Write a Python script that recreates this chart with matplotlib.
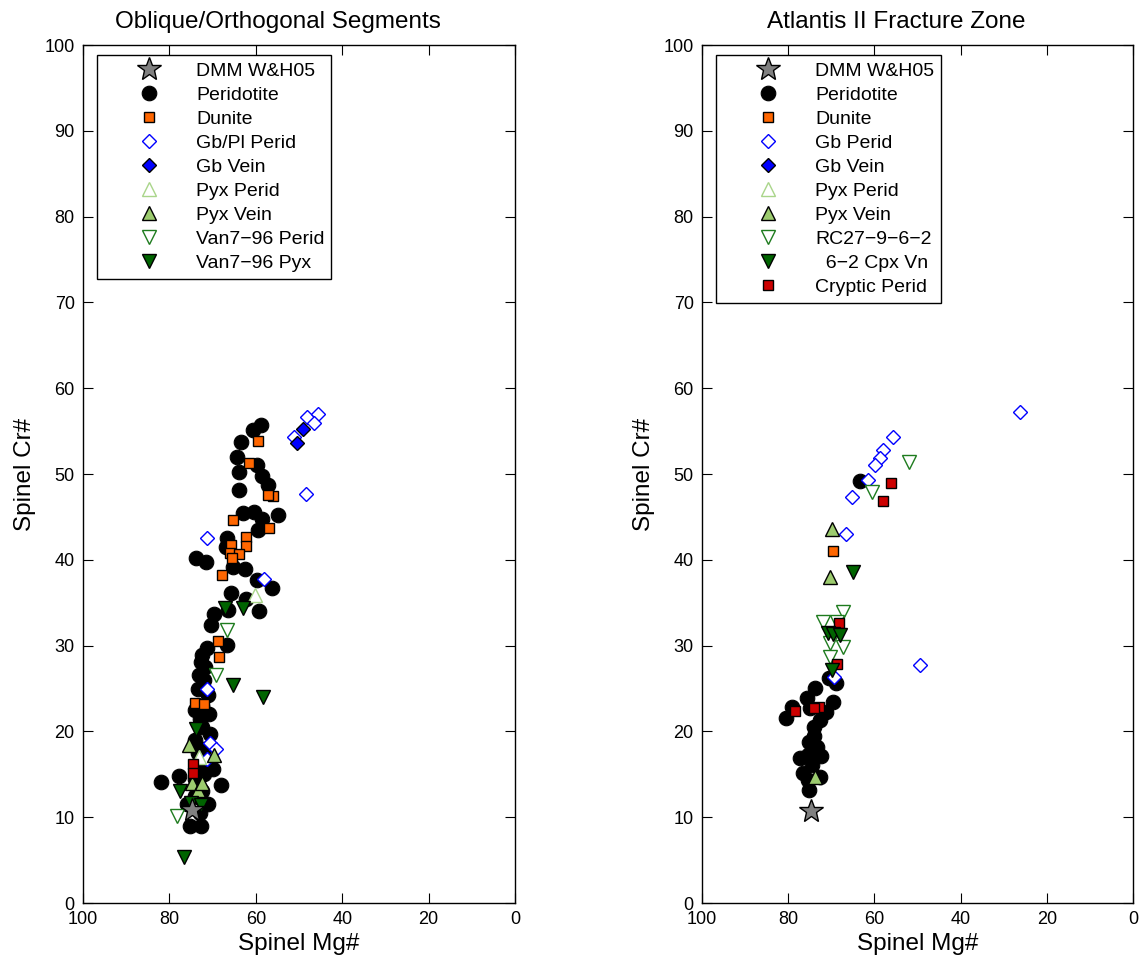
import matplotlib
matplotlib.use("Agg")
import matplotlib.pyplot as plt

plt.rcParams['font.family'] = ['Liberation Sans', 'DejaVu Sans']

# ---------------- Oblique/Orthogonal Segments ----------------
L_dmm_mg, L_dmm_cr = [74.8], [10.8]

L_per_mg = [58.8, 60.6, 63.4, 64.4, 63.9, 59.7, 58.6, 57.2, 63.9, 63.0, 60.4, 58.6, 54.9,
            59.5, 66.7, 66.9, 73.8, 71.5, 65.3, 62.5, 59.7, 56.3, 65.7, 62.3, 59.3, 66.4,
            69.7, 70.4, 66.7, 71.3, 72.5, 72.7, 73.1, 72.0, 73.5, 71.0, 72.5, 74.0, 73.0,
            70.5, 72.5, 74.0, 72.0, 73.5, 71.5, 73.0, 69.9, 72.0, 74.0, 77.8, 82.0, 68.0,
            72.5, 74.0, 71.1, 73.0, 75.2, 72.7, 76.0, 73.0, 70.8, 71.8]
L_per_cr = [55.7, 55.1, 53.7, 52.0, 50.2, 51.0, 49.8, 48.7, 48.1, 45.5, 45.6, 44.8, 45.2,
            43.5, 42.5, 41.5, 40.2, 39.7, 39.2, 38.9, 37.6, 36.7, 36.1, 35.4, 34.0, 34.1,
            33.7, 32.4, 30.1, 29.7, 28.9, 28.1, 26.6, 26.0, 25.0, 24.3, 23.0, 22.5, 21.4,
            19.7, 20.5, 19.0, 18.0, 17.5, 16.5, 16.0, 15.6, 15.0, 14.5, 14.8, 14.1, 13.8,
            13.0, 12.5, 11.5, 10.5, 9.0, 9.0, 11.5, 12.2, 22.0, 27.5]

L_dun_mg = [59.5, 61.6, 56.0, 57.2, 65.3, 57.0, 62.3, 65.7, 62.3, 66.0, 63.9, 65.5, 67.8,
            68.8, 68.5, 74.1, 72.0]
L_dun_cr = [53.8, 51.3, 47.4, 47.5, 44.6, 43.7, 42.7, 41.7, 41.6, 40.8, 40.7, 40.2, 38.2,
            30.5, 28.7, 23.3, 23.2]

L_gbp_mg = [48.1, 45.6, 46.5, 51.2, 48.4, 58.1, 71.3, 71.3, 70.6, 69.2, 71.3]
L_gbp_cr = [56.6, 57.0, 55.9, 54.3, 47.7, 37.8, 42.5, 24.9, 18.6, 17.9, 16.8]

L_gbv_mg = [49.1, 50.5]
L_gbv_cr = [55.2, 53.6]

L_pxp_mg = [60.2, 73.1]
L_pxp_cr = [35.9, 17.0]

L_pxv_mg = [75.5, 69.7, 74.8, 73.4, 72.5]
L_pxv_cr = [18.4, 17.2, 14.0, 13.2, 14.0]

L_vp_mg = [66.7, 69.2, 78.2]
L_vp_cr = [31.8, 26.6, 10.1]

L_vx_mg = [67.1, 63.0, 65.3, 58.3, 73.8, 77.5, 75.0, 72.7, 76.6]
L_vx_cr = [34.4, 34.4, 25.4, 24.0, 20.3, 13.1, 11.7, 11.4, 5.4]

L_cry_mg = [74.5, 74.5]
L_cry_cr = [16.2, 15.2]

# ---------------- Atlantis II Fracture Zone ----------------
R_dmm_mg, R_dmm_cr = [74.7], [10.7]

R_per_mg = [63.3, 70.5, 68.9, 73.8, 75.6, 69.6, 79.1, 80.5, 74.9, 71.2, 72.6, 74.0, 75.2,
            73.3, 77.3, 75.4, 72.4, 74.5, 76.6, 72.6, 75.2, 75.4, 74.0]
R_per_cr = [49.2, 26.2, 25.6, 25.1, 23.9, 23.4, 22.8, 21.6, 22.7, 22.3, 21.3, 20.5, 18.8,
            18.2, 16.9, 17.2, 17.1, 16.1, 15.2, 14.7, 13.2, 14.3, 19.5]

R_dun_mg = [69.6]
R_dun_cr = [41.0]

R_gbp_mg = [26.2, 55.7, 58.0, 58.7, 59.9, 61.5, 65.2, 66.6, 69.4, 49.4]
R_gbp_cr = [57.2, 54.3, 52.8, 51.9, 51.0, 49.3, 47.3, 43.0, 26.3, 27.7]

R_gbv_mg, R_gbv_cr = [], []
R_pxp_mg, R_pxp_cr = [], []

R_pxv_mg = [69.8, 70.3, 73.8]
R_pxv_cr = [43.6, 38.0, 14.7]

R_rc_mg = [52.0, 60.6, 67.3, 71.9, 68.7, 70.3, 67.3, 70.3]
R_rc_cr = [51.4, 47.9, 33.9, 32.8, 32.8, 30.3, 29.8, 28.7]

R_cpx_mg = [65.0, 70.8, 69.6, 68.0, 69.8]
R_cpx_cr = [38.6, 31.5, 31.4, 31.2, 27.2]

R_cry_mg = [56.1, 58.0, 68.2, 68.7, 78.4, 72.9, 74.0]
R_cry_cr = [48.9, 46.9, 32.6, 27.9, 22.4, 22.8, 22.7]

# ---------------- styles ----------------
ORANGE = '#FF6600'
RED = '#CC0000'
LGREEN = '#9CCB6E'
LGREEN_OPEN = '#A9D58A'
DGREEN = '#006400'
DGREEN_OPEN = '#1E7B1E'
GREY = '#808080'

ST = {
    'dmm': dict(marker='*', ms=18, mfc=GREY, mec='black', mew=1.0),
    'per': dict(marker='o', ms=10.5, mfc='black', mec='black', mew=0.8),
    'dun': dict(marker='s', ms=7.5, mfc=ORANGE, mec='black', mew=1.0),
    'gbp': dict(marker='D', ms=7.5, mfc='white', mec='blue', mew=1.0),
    'gbv': dict(marker='D', ms=7.5, mfc='blue', mec='black', mew=1.0),
    'pxp': dict(marker='^', ms=9.5, mfc='white', mec=LGREEN_OPEN, mew=1.0),
    'pxv': dict(marker='^', ms=9.5, mfc=LGREEN, mec='black', mew=1.0),
    'vp': dict(marker='v', ms=9.5, mfc='white', mec=DGREEN_OPEN, mew=1.0),
    'vx': dict(marker='v', ms=9.5, mfc=DGREEN, mec='black', mew=1.0),
    'cry': dict(marker='s', ms=7.5, mfc=RED, mec='black', mew=1.0),
}


def pts(ax, x, y, key, label=None):
    h, = ax.plot(x, y, linestyle='none', label=label, **ST[key])
    return h


def style_axes(ax, title):
    ax.set_xlim(100, 0)
    ax.set_ylim(0, 100)
    ax.set_xticks([100, 80, 60, 40, 20, 0])
    ax.set_yticks(range(0, 101, 10))
    ax.tick_params(direction='in', length=7, width=0.8, top=True, right=True,
                   labelsize=13, pad=6, colors='black')
    for s in ax.spines.values():
        s.set_linewidth(1.0)
    ax.set_xlabel('Spinel Mg#', fontsize=17.5, labelpad=3)
    ax.set_ylabel('Spinel Cr#', fontsize=17.5, labelpad=6)
    ax.set_title(title, fontsize=17.5, pad=12, x=0.452)


def add_legend(ax, handles):
    leg = ax.legend(handles=handles, loc='upper left', bbox_to_anchor=(0.032, 0.988),
                    fontsize=14, numpoints=1, handlelength=4.7, handletextpad=0.05,
                    labelspacing=0.33, borderpad=0.35, frameon=True, fancybox=False,
                    edgecolor='black', framealpha=1.0, borderaxespad=0)
    leg.get_frame().set_linewidth(1.0)
    return leg


fig = plt.figure(figsize=(11.44, 9.66), dpi=100)
axL = fig.add_axes([0.0726, 0.0652, 0.3776, 0.8882])
axR = fig.add_axes([0.6136, 0.0652, 0.3767, 0.8882])

# left panel
hp = pts(axL, L_per_mg, L_per_cr, 'per', 'Peridotite')
hd = pts(axL, L_dun_mg, L_dun_cr, 'dun', 'Dunite')
hg = pts(axL, L_gbp_mg, L_gbp_cr, 'gbp', 'Gb/Pl Perid')
hgv = pts(axL, L_gbv_mg, L_gbv_cr, 'gbv', 'Gb Vein')
hpp = pts(axL, L_pxp_mg, L_pxp_cr, 'pxp', 'Pyx Perid')
hpv = pts(axL, L_pxv_mg, L_pxv_cr, 'pxv', 'Pyx Vein')
hvp = pts(axL, L_vp_mg, L_vp_cr, 'vp', 'Van7\u221296 Perid')
hvx = pts(axL, L_vx_mg, L_vx_cr, 'vx', 'Van7\u221296 Pyx')
pts(axL, L_cry_mg, L_cry_cr, 'cry')
hs = pts(axL, L_dmm_mg, L_dmm_cr, 'dmm', 'DMM W&H05')
style_axes(axL, 'Oblique/Orthogonal Segments')
add_legend(axL, [hs, hp, hd, hg, hgv, hpp, hpv, hvp, hvx])

# right panel
hp = pts(axR, R_per_mg, R_per_cr, 'per', 'Peridotite')
hd = pts(axR, R_dun_mg, R_dun_cr, 'dun', 'Dunite')
hg = pts(axR, R_gbp_mg, R_gbp_cr, 'gbp', 'Gb Perid')
hgv = pts(axR, R_gbv_mg, R_gbv_cr, 'gbv', 'Gb Vein')
hpp = pts(axR, R_pxp_mg, R_pxp_cr, 'pxp', 'Pyx Perid')
hpv = pts(axR, R_pxv_mg, R_pxv_cr, 'pxv', 'Pyx Vein')
hvp = pts(axR, R_rc_mg, R_rc_cr, 'vp', 'RC27\u22129\u22126\u22122')
hc = pts(axR, R_cry_mg, R_cry_cr, 'cry', 'Cryptic Perid')
hvx = pts(axR, R_cpx_mg, R_cpx_cr, 'vx', '  6\u22122 Cpx Vn')
hs = pts(axR, R_dmm_mg, R_dmm_cr, 'dmm', 'DMM W&H05')
style_axes(axR, 'Atlantis II Fracture Zone')
add_legend(axR, [hs, hp, hd, hg, hgv, hpp, hpv, hvp, hvx, hc])

fig.savefig('out.png', dpi=100, facecolor='white')
